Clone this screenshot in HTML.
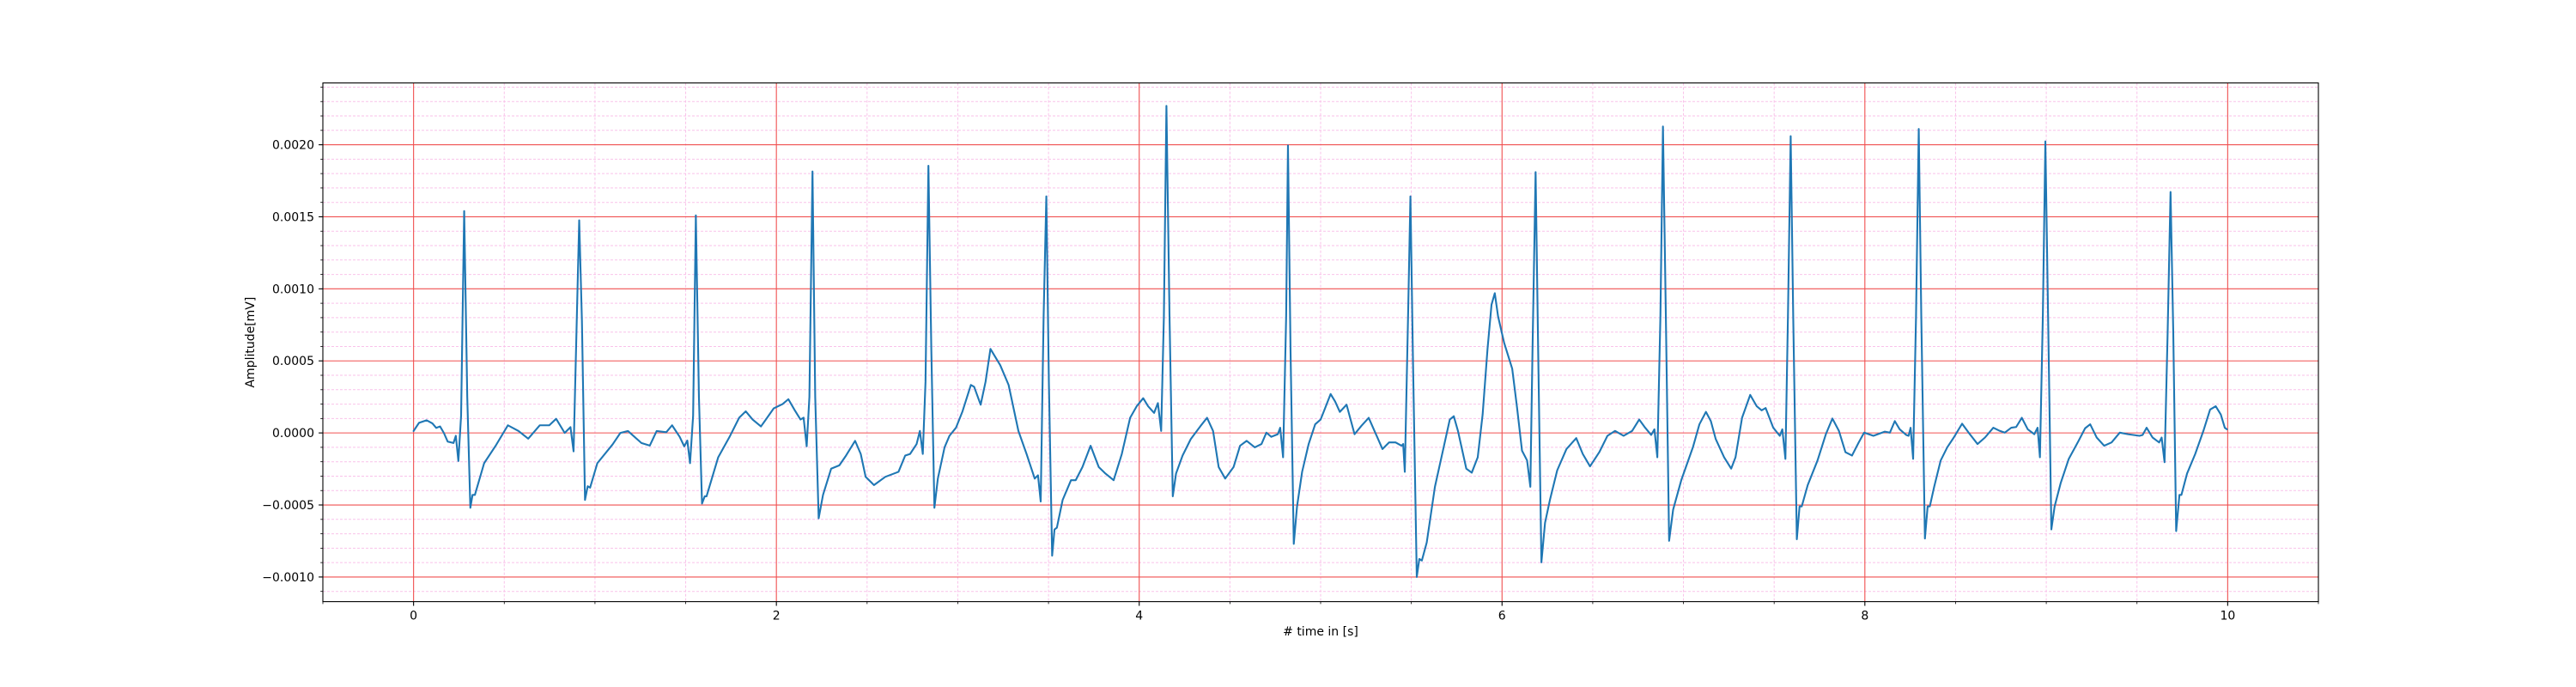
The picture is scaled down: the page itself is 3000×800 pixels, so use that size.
<!DOCTYPE html>
<html><head><meta charset="utf-8"><style>
html,body{margin:0;padding:0;background:#fff}
svg{display:block}
text{font-family:"DejaVu Sans","Liberation Sans",sans-serif;font-size:14px;fill:#000}
</style></head><body>
<svg id="chart" width="3000" height="800" viewBox="0 0 3000 800" xmlns="http://www.w3.org/2000/svg">
<rect width="3000" height="800" fill="#fff"/>
<g id="grid"></g>
<g id="series"></g>
<rect x="376" y="96.6" width="2324" height="604" fill="none" stroke="#000" stroke-width="1.1"/>
<g id="axes"></g>
<text x="1538" y="740" text-anchor="middle"># time in [s]</text>
<text transform="translate(296,398.6) rotate(-90)" text-anchor="middle">Amplitude[mV]</text>
</svg>
<script>
const times=[0,.03,.072,.104,.125,.146,.167,.188,.22,.233,.247,.262,.279,.296,.313,.325,.338,.389,.452,.52,.579,.632,.696,.748,.786,.833,.865,.882,.913,.928,.945,.96,.973,1.013,1.097,1.14,1.182,1.256,1.302,1.34,1.393,1.425,1.467,1.492,1.509,1.524,1.541,1.556,1.573,1.59,1.605,1.615,1.679,1.742,1.795,1.831,1.869,1.915,1.985,2.034,2.066,2.1,2.133,2.15,2.167,2.182,2.199,2.214,
2.233,2.257,2.302,2.347,2.384,2.434,2.465,2.492,2.538,2.6,2.673,2.71,2.737,2.773,2.791,2.807,2.822,2.838,2.854,2.871,2.89,2.927,2.954,2.99,3.026,3.072,3.09,3.126,3.153,3.18,3.234,3.28,3.334,3.379,3.424,3.442,3.457,3.473,3.488,3.502,3.52,3.533,3.546,3.578,3.624,3.65,3.687,3.732,3.777,3.814,3.859,3.904,3.95,3.986,4.022,4.049,4.082,4.103,4.121,4.136,4.15,4.167,4.185,4.203,4.239,4.284,4.338,4.374,4.407,4.438,4.474,4.52,4.556,4.592,4.637,4.674,4.701,4.728,4.764,4.777,4.793,4.81,4.82,
4.834,4.852,4.87,4.898,4.934,4.97,5.0,5.025,5.055,5.08,5.106,5.143,5.187,5.224,5.265,5.305,5.341,5.377,5.413,5.446,5.455,5.464,5.482,5.495,5.508,5.53,5.544,5.558,5.585,5.63,5.676,5.712,5.734,5.757,5.803,5.833,5.866,5.893,5.92,5.942,5.96,5.978,6.011,6.056,6.083,6.11,6.138,6.156,6.168,6.185,6.199,6.217,6.237,6.264,6.304,6.355,6.409,6.445,6.485,6.536,6.581,6.623,6.67,6.717,6.756,6.789,6.822,6.84,6.856,6.873,6.887,6.903,6.921,6.943,6.988,7.052,7.088,7.124,7.151,7.178,7.224,7.263,7.287,7.323,7.368,7.404,7.431,7.453,7.495,7.531,7.545,7.562,
7.576,7.591,7.605,7.625,7.64,7.652,7.685,7.739,7.785,7.821,7.857,7.893,7.929,7.966,7.996,8.047,8.11,8.138,8.165,8.192,8.228,8.241,8.252,8.266,8.282,8.297,8.311,8.331,8.346,8.358,8.382,8.418,8.454,8.49,8.536,8.572,8.621,8.662,8.708,8.744,8.771,8.807,8.834,8.865,8.898,8.934,8.952,8.965,8.981,8.995,9.01,9.028,9.046,9.079,9.124,9.178,9.214,9.242,9.278,9.319,9.36,9.405,9.45,9.514,9.531,9.553,9.586,9.622,9.636,9.652,9.669,9.685,9.7,9.716,9.734,9.745,9.776,9.821,9.866,9.903,9.934,9.962,9.984,9.996];
// amplitude in units of 1e-3 mV
const amps=[.013,.07,.088,.066,.035,.045,0,-.06,-.07,-.02,-.195,.12,1.54,.25,-.52,-.43,-.43,-.21,-.09,.053,.013,-.04,.053,.053,.098,0,.04,-.128,1.476,.78,-.465,-.37,-.38,-.21,-.08,0,.013,-.07,-.088,.013,.005,.053,-.027,-.093,-.053,-.21,.12,1.51,.25,-.49,-.44,-.44,-.17,-.027,.106,.15,.093,.045,.17,.2,.234,.16,.093,.106,-.093,.25,1.815,.25,
-.593,-.43,-.248,-.225,-.157,-.055,-.146,-.305,-.362,-.305,-.27,-.157,-.146,-.077,.014,-.146,.355,1.854,.58,-.52,-.317,-.1,-.02,.036,.15,.333,.32,.196,.355,.583,.47,.333,.014,-.146,-.317,-.294,-.476,.81,1.642,.355,-.852,-.67,-.658,-.465,-.328,-.328,-.237,-.089,-.237,-.282,-.328,-.146,.105,.185,.241,.185,.139,.207,.014,.81,2.27,.81,-.44,-.282,-.157,-.043,.048,.105,.014,-.237,-.317,-.237,-.089,-.055,-.1,-.077,.002,-.027,-.009,.036,-.169,.81,1.995,
.58,-.77,-.51,-.27,-.077,.06,.093,.173,.27,.218,.146,.196,-.009,.048,.105,-.009,-.112,-.066,-.066,-.089,-.077,-.27,.81,1.642,.58,-1.0,-.875,-.886,-.76,-.374,-.112,.093,.116,.014,-.248,-.276,-.169,.128,.583,.89,.97,.81,.628,.446,.173,-.123,-.191,-.374,.58,1.81,.58,-.898,-.624,-.465,-.26,-.112,-.036,-.146,-.232,-.134,-.02,.014,-.02,.014,.093,.036,-.014,.025,-.169,.81,2.127,.81,-.749,-.533,-.328,-.1,.06,.146,.082,-.043,-.169,-.248,-.169,.105,.264,.185,.157,.173,.036,-.02,.025,-.18,
.81,2.06,.81,-.738,-.51,-.51,-.362,-.191,-.009,.1,.014,-.134,-.157,-.066,.002,-.02,.009,.002,.082,.025,-.014,-.02,.036,-.18,.81,2.11,.81,-.733,-.51,-.51,-.374,-.191,-.1,-.032,.064,.002,-.077,-.032,.036,.014,.002,.036,.041,.105,.025,-.009,.036,-.169,.81,2.023,.81,-.67,-.51,-.35,-.18,-.055,.032,.06,-.032,-.089,-.066,.002,-.009,-.02,-.014,.036,-.032,-.066,-.032,-.203,.697,1.672,.697,-.681,-.43,-.43,-.282,-.146,.014,.162,.185,.128,.036,.025];
const xTickVals=[0,2,4,6,8,10];
const xTickLabels=["0","2","4","6","8","10"];
const yTickVals=[-0.001,-0.0005,0,0.0005,0.001,0.0015,0.002];
const yTickLabels=["\u22120.0010","\u22120.0005","0.0000","0.0005","0.0010","0.0015","0.0020"];

const L=376,R=2700,T=96.6,B=700.6;
const X0=-0.5,X1=10.5,Y0=-0.001171,Y1=0.002429;
const sx=t=>L+(t-X0)/(X1-X0)*(R-L);
const sy=v=>B-(v-Y0)/(Y1-Y0)*(B-T);
const NS="http://www.w3.org/2000/svg";
function mk(tag,attrs,parent){const e=document.createElementNS(NS,tag);for(const k in attrs)e.setAttribute(k,attrs[k]);parent.appendChild(e);return e;}
const grid=document.getElementById('grid'),axes=document.getElementById('axes'),series=document.getElementById('series');

for(let i=-11;i<=24;i++){
  if(i%5===0)continue;
  const y=sy(i*0.0001);
  const ln=mk('line',{x1:L,x2:R,y1:y,y2:y,stroke:'#f9c2ea','stroke-width':1,'stroke-dasharray':'3,2'},grid);
  
  
  const tk=mk('line',{x1:L,x2:L-2.8,y1:y,y2:y,stroke:'#000','stroke-width':0.8},axes);
  
  
}
for(let i=-1;i<=21;i++){
  const t=i*0.5;
  if(Math.abs(t%2)<1e-9)continue;
  const x=sx(t);
  const ln=mk('line',{x1:x,x2:x,y1:T,y2:B,stroke:'#f9c2ea','stroke-width':1,'stroke-dasharray':'3,2'},grid);
  
  
  const tk=mk('line',{x1:x,x2:x,y1:B,y2:B+2.8,stroke:'#000','stroke-width':0.8},axes);
  
  
}
xTickVals.forEach((t,i)=>{
  const x=sx(t);
  const ln=mk('line',{x1:x,x2:x,y1:T,y2:B,stroke:'#f05050','stroke-width':1.1},grid);
  
  
  const tk=mk('line',{x1:x,x2:x,y1:B,y2:B+4.9,stroke:'#000','stroke-width':1.1},axes);
  
  
  const tx=mk('text',{x:x,y:B+21,'text-anchor':'middle'},axes);
  tx.textContent=xTickLabels[i];
  
  
});
yTickVals.forEach((v,i)=>{
  const y=sy(v);
  const ln=mk('line',{x1:L,x2:R,y1:y,y2:y,stroke:'#f05050','stroke-width':1.1},grid);
  
  
  const tk=mk('line',{x1:L,x2:L-4.9,y1:y,y2:y,stroke:'#000','stroke-width':1.1},axes);
  
  
  const tx=mk('text',{x:L-10,y:y+5,'text-anchor':'end'},axes);
  tx.textContent=yTickLabels[i];
  
  
});
let d='';
times.forEach((t,i)=>{d+=(i?'L':'M')+sx(t).toFixed(2)+','+sy(amps[i]*0.001).toFixed(2);});
const path=mk('path',{d:d,fill:'none',stroke:'#1f77b4','stroke-width':2.1,'stroke-linejoin':'round','stroke-linecap':'round'},series);


</script>
</body></html>
